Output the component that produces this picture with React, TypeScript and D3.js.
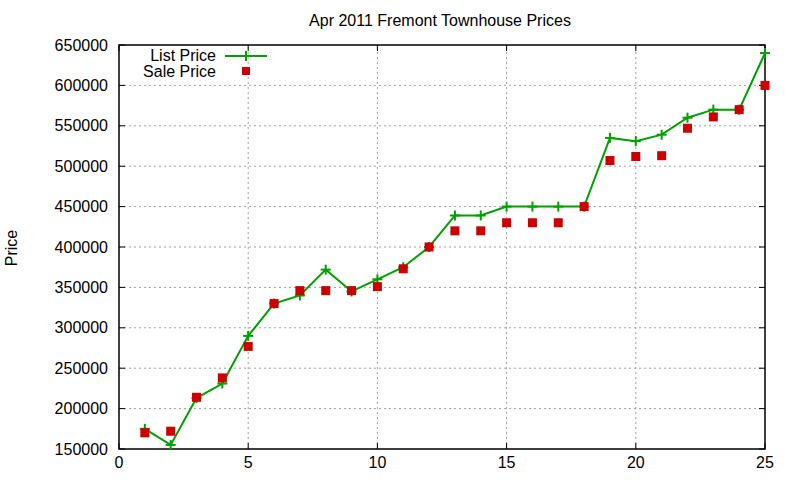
import React from 'react';
import * as d3 from 'd3';

const unitIndex = d3.range(1, 26);
const listPrice = [
  175000, 155000, 213000, 231000, 290000, 330000, 340000, 372000, 345000, 360000,
  375000, 400000, 439000, 439000, 450000, 450000, 450000, 450000, 535000, 531000,
  539000, 560000, 570000, 570000, 640000,
];
const salePrice = [
  170000, 172000, 214000, 238000, 277000, 330000, 346000, 346000, 346000, 351000,
  373000, 400000, 420000, 420000, 430000, 430000, 430000, 450000, 507000, 512000,
  513000, 547000, 561000, 570000, 600000,
];
const xTicks = [0, 5, 10, 15, 20, 25];
const yTicks = d3.range(150000, 650001, 50000);

const W = 800;
const H = 480;
const margin = { top: 45, right: 35, bottom: 31, left: 119 };
const font = '"Liberation Sans", Arial, sans-serif';
const green = '#00a000';
const red = '#cc0000';

export default function App() {
  const x = d3.scaleLinear().domain([0, 25]).range([margin.left, W - margin.right]);
  const y = d3.scaleLinear().domain([150000, 650000]).range([H - margin.bottom, margin.top]);
  const [x0, x1] = x.range();
  const [y0, y1] = y.range();

  const line = d3.line<number>()
    .x((_, i) => x(unitIndex[i]))
    .y((d) => y(d))(listPrice);

  const plus = (cx: number, cy: number, key: string | number) => (
    <g key={key} stroke={green} strokeWidth={2}>
      <line x1={cx - 5} x2={cx + 5} y1={cy} y2={cy} />
      <line x1={cx} x2={cx} y1={cy - 5} y2={cy + 5} />
    </g>
  );

  return (
    <svg width={W} height={H} style={{ position: 'absolute', left: 0, top: 0, background: '#fff' }}
      fontFamily={font}>
      <rect width={W} height={H} fill="#fff" />
      {/* grid */}
      <g stroke="#a0a0a0" strokeWidth={1} strokeDasharray="2,3">
        {yTicks.slice(1, -1).map((t) => (
          <line key={t} x1={x0} x2={x1} y1={y(t)} y2={y(t)} />
        ))}
        {xTicks.slice(1, -1).map((t) => (
          <line key={t} x1={x(t)} x2={x(t)} y1={y0} y2={y1} />
        ))}
      </g>
      {/* tick marks */}
      <g stroke="#000" strokeWidth={1}>
        {yTicks.map((t) => (
          <g key={t}>
            <line x1={x0} x2={x0 + 6} y1={y(t)} y2={y(t)} />
            <line x1={x1} x2={x1 - 6} y1={y(t)} y2={y(t)} />
          </g>
        ))}
        {xTicks.map((t) => (
          <g key={t}>
            <line x1={x(t)} x2={x(t)} y1={y0} y2={y0 - 6} />
            <line x1={x(t)} x2={x(t)} y1={y1} y2={y1 + 6} />
          </g>
        ))}
      </g>
      <rect x={x0} y={y1} width={x1 - x0} height={y0 - y1} fill="none" stroke="#000" strokeWidth={1.5} />
      {/* tick labels */}
      <g fontSize={16} fill="#000">
        {yTicks.map((t) => (
          <text key={t} x={x0 - 11} y={y(t)} textAnchor="end" dominantBaseline="central">{t}</text>
        ))}
        {xTicks.map((t) => (
          <text key={t} x={x(t)} y={468} textAnchor="middle">{t}</text>
        ))}
      </g>
      <text x={440} y={26} fontSize={16} textAnchor="middle">Apr 2011 Fremont Townhouse Prices</text>
      <text transform="translate(17,248) rotate(-90)" fontSize={16} textAnchor="middle">Price</text>
      {/* data */}
      <path d={line ?? ''} fill="none" stroke={green} strokeWidth={2} />
      {listPrice.map((v, i) => plus(x(unitIndex[i]), y(v), i))}
      {salePrice.map((v, i) => (
        <rect key={i} x={x(unitIndex[i]) - 4.5} y={y(v) - 4.5} width={9} height={9} fill={red} />
      ))}
      {/* legend */}
      <g fontSize={16}>
        <text x={216} y={55} textAnchor="end" dominantBaseline="central">List Price</text>
        <line x1={225} x2={267} y1={56} y2={56} stroke={green} strokeWidth={2} />
        {plus(246, 56, 'lg')}
        <text x={216} y={71} textAnchor="end" dominantBaseline="central">Sale Price</text>
        <rect x={242} y={67} width={8} height={8} fill={red} />
      </g>
    </svg>
  );
}
